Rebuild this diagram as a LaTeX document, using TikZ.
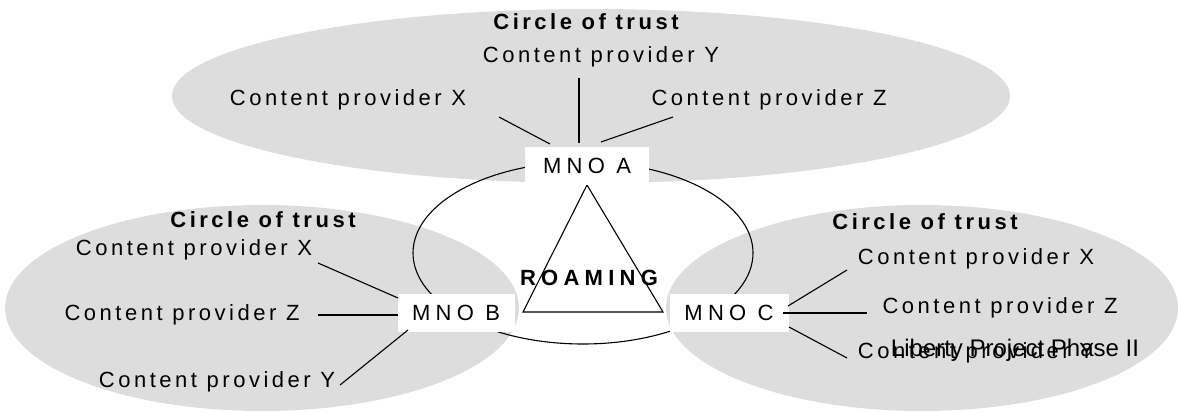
\documentclass[tikz,border=0pt]{standalone}
\usepackage{fontspec}
\setmainfont{Liberation Sans}
\newfontfamily\spA[LetterSpace=16]{Liberation Sans}
\newfontfamily\spB[LetterSpace=24]{Liberation Sans}
\begin{document}
\begin{tikzpicture}[x=1pt,y=-1pt,
  trust/.style={fill=black!13.5,draw=none},
  cp/.style={inner sep=0pt,font=\fontsize{22}{26}\selectfont\spA},
  cot/.style={inner sep=0pt,font=\fontsize{22}{26}\selectfont\spA\bfseries},
  mno/.style={fill=white,inner sep=0pt,minimum height=38pt,font=\fontsize{22}{26}\selectfont\spB},
  wire/.style={line width=1.1pt},
  lbl/.style={inner sep=0pt,font=\fontsize{24}{28}\selectfont}]
\useasboundingbox (0,0) rectangle (1178,412);
% circles of trust
\fill[trust] (591,96) ellipse [x radius=419pt, y radius=87pt];
\fill[trust] (262,308) ellipse [x radius=257pt, y radius=103pt];
\fill[trust] (922,308) ellipse [x radius=256pt, y radius=103pt];
% roaming ring and triangle
\draw[wire] (583,253) ellipse [x radius=170pt, y radius=91pt];
\coordinate (t1) at (587,185);
\coordinate (t2) at (523,312);
\coordinate (t3) at (663,312);
\draw[wire,line join=miter] (t1) -- (t2) -- (t3) -- cycle;
% MNO boxes
\node[mno,minimum width=124pt] (A) at (587,166) {MNO A};
\node[mno,minimum width=117pt] (B) at (456,313) {MNO B};
\node[mno,minimum width=119pt] (C) at (729,313) {MNO C};
\node[inner sep=0pt,font=\fontsize{22}{26}\selectfont\spB\bfseries] (R) at (589,278) {ROAMING};
% top group
\node[cot] (cotA) at (586,22) {Circle of trust};
\node[cp] (aY) at (601,57) {Content provider Y};
\node[cp] (aX) at (348,100) {Content provider X};
\node[cp] (aZ) at (769,100) {Content provider Z};
\coordinate (aX1) at (499,117); \coordinate (aX2) at (550,144);
\coordinate (aY1) at (579,78);  \coordinate (aY2) at (579,143);
\coordinate (aZ1) at (673,117); \coordinate (aZ2) at (601,142);
\draw[wire] (aX1) -- (aX2);
\draw[wire] (aY1) -- (aY2);
\draw[wire] (aZ1) -- (aZ2);
% left group
\node[cot] (cotB) at (263,220) {Circle of trust};
\node[cp] (bX) at (194,250) {Content provider X};
\node[cp] (bZ) at (182,315) {Content provider Z};
\node[cp] (bY) at (217,382) {Content provider Y};
\coordinate (bX1) at (318,263); \coordinate (bX2) at (398,298);
\coordinate (bZ1) at (318,315); \coordinate (bZ2) at (398,315);
\coordinate (bY1) at (340,385); \coordinate (bY2) at (408,330);
\draw[wire] (bX1) -- (bX2);
\draw[wire] (bZ1) -- (bZ2);
\draw[wire] (bY1) -- (bY2);
% right group
\node[cot] (cotC) at (925,222) {Circle of trust};
\node[cp] (cX) at (976,259) {Content provider X};
\node[cp] (cZ) at (1000,308) {Content provider Z};
\node[cp] (cY) at (976,353) {Content provider Y};
\coordinate (cX1) at (847,270); \coordinate (cX2) at (788,306);
\coordinate (cZ1) at (783,313); \coordinate (cZ2) at (867,313);
\coordinate (cY1) at (789,327); \coordinate (cY2) at (847,358);
\draw[wire] (cX1) -- (cX2);
\draw[wire] (cZ1) -- (cZ2);
\draw[wire] (cY1) -- (cY2);
\node[lbl] (lib) at (1015,350) {Liberty Project Phase II};
\end{tikzpicture}
\end{document}
